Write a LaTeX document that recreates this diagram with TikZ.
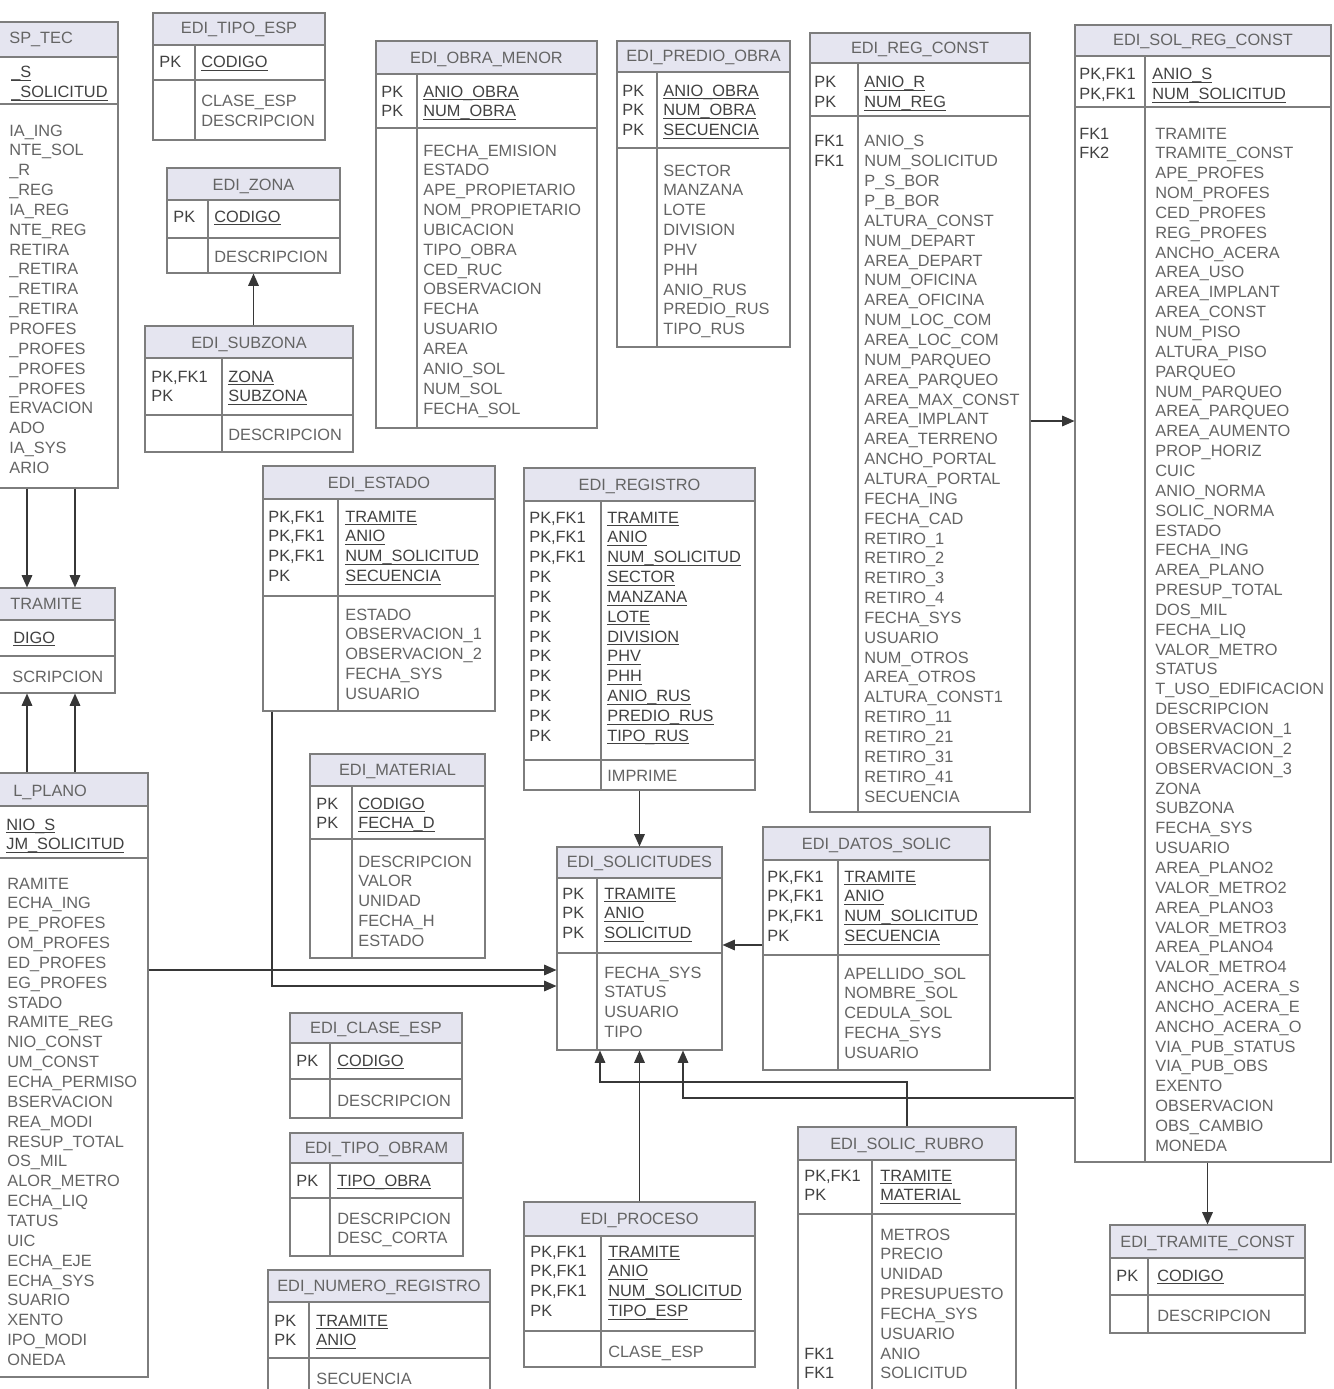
\documentclass[tikz,border=0pt]{standalone}
\usepackage{fontspec}
\setmainfont{Liberation Sans}
\usetikzlibrary{arrows.meta, fit, calc}
\definecolor{hdrfill}{RGB}{229, 229, 240}
\definecolor{linegray}{RGB}{125, 125, 125}
\definecolor{txtgray}{RGB}{100, 100, 100}
\definecolor{keygray}{RGB}{65, 65, 65}
\definecolor{arrowgray}{RGB}{55, 55, 55}

\newcommand{\erfont}{\fontsize{9.3}{11}\selectfont}
\newcommand{\rowstep}{19.85}
\newsavebox{\keybox}
\newcommand{\keyul}[1]{\sbox{\keybox}{#1}\rlap{\rule[-1.7pt]{\wd\keybox}{0.5pt}}\usebox{\keybox}}

\tikzset{
  hdr/.style={fill=hdrfill},
  tabline/.style={draw=linegray, line width=0.6pt},
  tabframe/.style={draw=linegray, line width=0.6pt, inner sep=0pt},
  tabtitle/.style={font=\erfont, text=txtgray, anchor=base, inner sep=0pt},
  pklabel/.style={font=\erfont, text=keygray, anchor=base west, inner sep=0pt},
  keyname/.style={font=\erfont, text=keygray, anchor=base west, inner sep=0pt},
  attrname/.style={font=\erfont, text=txtgray, anchor=base west, inner sep=0pt},
  fk/.style={draw=arrowgray, line width=0.8pt, -{Triangle[length=7pt,width=6pt]}}
}

% 表框: id, x1, x2, 分隔x, 顶, 表头底, 主键底, 底
\newcommand{\ertable}[8]{%
  \fill[hdr] (#2,#5) rectangle (#3,#6);
  \draw[tabline] (#2,#6) -- (#3,#6) (#2,#7) -- (#3,#7) (#4,#6) -- (#4,#8);
  \node[tabframe, fit={(#2,#5) (#3,#8)}] (#1) {};
}
% 行: 名前缀, x, 第一行y, 列表
\newcommand{\erlabels}[4]{\foreach \txt [count=\i] in {#4}
  {\node[pklabel] (#1\i) at (#2,{#3+(\i-1)*\rowstep+6}) {\txt};}}
\newcommand{\erkeys}[4]{\foreach \txt [count=\i] in {#4}
  {\node[keyname] (#1\i) at (#2,{#3+(\i-1)*\rowstep+6}) {\keyul{\txt}};}}
\newcommand{\erattrs}[4]{\foreach \txt [count=\i] in {#4}
  {\node[attrname] (#1\i) at (#2,{#3+(\i-1)*\rowstep+6}) {\txt};}}

\begin{document}
\begin{tikzpicture}[x=0.02cm, y=-0.02cm]
  \useasboundingbox[fill=white] (0,0) rectangle (1333,1389);

  % 左上: SP_TEC (被裁切)
  \ertable{insp}{-10}{118}{-30}{22}{57}{104}{488}
  \node[tabtitle, anchor=base west] (insp-t) at (9,44) {SP\_TEC};
  \erkeys{insp-k}{11}{72}{\_S, \_SOLICITUD}
  \erattrs{insp-a}{9}{130}{IA\_ING, NTE\_SOL, \_R, \_REG, IA\_REG, NTE\_REG, RETIRA,
    \_RETIRA, \_RETIRA, \_RETIRA, PROFES, \_PROFES, \_PROFES, \_PROFES, ERVACION,
    ADO, IA\_SYS, ARIO}

  % TRAMITE (被裁切)
  \ertable{tramite}{-10}{115}{-30}{588}{620}{656}{693}
  \node[tabtitle, anchor=base west] (tramite-t) at (10,609) {TRAMITE};
  \erkeys{tramite-k}{13}{637}{DIGO}
  \erattrs{tramite-a}{12}{676}{SCRIPCION}

  % L_PLANO (被裁切)
  \ertable{plano}{-10}{148}{-30}{773}{806}{858}{1377}
  \node[tabtitle, anchor=base west] (plano-t) at (13,796) {L\_PLANO};
  \erkeys{plano-k}{6}{824}{NIO\_S, JM\_SOLICITUD}
  \erattrs{plano-a}{7}{883}{RAMITE, ECHA\_ING, PE\_PROFES, OM\_PROFES, ED\_PROFES,
    EG\_PROFES, STADO, RAMITE\_REG, NIO\_CONST, UM\_CONST, ECHA\_PERMISO, BSERVACION,
    REA\_MODI, RESUP\_TOTAL, OS\_MIL, ALOR\_METRO, ECHA\_LIQ, TATUS, UIC, ECHA\_EJE,
    ECHA\_SYS, SUARIO, XENTO, IPO\_MODI, ONEDA}

  % EDI_TIPO_ESP
  \ertable{tipoesp}{153}{325}{195}{13}{45}{80}{140}
  \node[tabtitle] (tipoesp-t) at (239,34) {EDI\_TIPO\_ESP};
  \erlabels{tipoesp-l}{159}{62}{PK}
  \erkeys{tipoesp-k}{201}{62}{CODIGO}
  \erattrs{tipoesp-a}{201}{101}{CLASE\_ESP, DESCRIPCION}

  % EDI_ZONA / EDI_SUBZONA
  \ertable{zona}{167}{340}{208}{168}{200}{238}{273}
  \node[tabtitle] (zona-t) at (253.5,190) {EDI\_ZONA};
  \erlabels{zona-l}{173}{216}{PK}
  \erkeys{zona-k}{214}{216}{CODIGO}
  \erattrs{zona-a}{214}{256}{DESCRIPCION}

  \ertable{subzona}{145}{353}{222}{326}{358}{415}{452}
  \node[tabtitle] (subzona-t) at (249,348) {EDI\_SUBZONA};
  \erlabels{subzona-l}{151}{376}{{PK,FK1}, PK}
  \erkeys{subzona-k}{228}{376}{ZONA, SUBZONA}
  \erattrs{subzona-a}{228}{434}{DESCRIPCION}

  % EDI_OBRA_MENOR
  \ertable{obramenor}{376}{597}{417}{41}{74}{128}{428}
  \node[tabtitle] (obramenor-t) at (486.5,64) {EDI\_OBRA\_MENOR};
  \erlabels{obramenor-l}{381}{91}{PK, PK}
  \erkeys{obramenor-k}{423}{91}{ANIO\_OBRA, NUM\_OBRA}
  \erattrs{obramenor-a}{423}{150}{FECHA\_EMISION, ESTADO, APE\_PROPIETARIO,
    NOM\_PROPIETARIO, UBICACION, TIPO\_OBRA, CED\_RUC, OBSERVACION, FECHA, USUARIO,
    AREA, ANIO\_SOL, NUM\_SOL, FECHA\_SOL}

  % EDI_PREDIO_OBRA
  \ertable{prediobra}{617}{790}{657}{41}{72}{148}{347}
  \node[tabtitle] (prediobra-t) at (703.5,62) {EDI\_PREDIO\_OBRA};
  \erlabels{prediobra-l}{622}{90}{PK, PK, PK}
  \erkeys{prediobra-k}{663}{90}{ANIO\_OBRA, NUM\_OBRA, SECUENCIA}
  \erattrs{prediobra-a}{663}{170}{SECTOR, MANZANA, LOTE, DIVISION, PHV, PHH,
    ANIO\_RUS, PREDIO\_RUS, TIPO\_RUS}

  % EDI_REG_CONST
  \ertable{regconst}{810}{1030}{858}{33}{63}{116}{812}
  \node[tabtitle] (regconst-t) at (920,54) {EDI\_REG\_CONST};
  \erlabels{regconst-l}{814}{82}{PK, PK}
  \erkeys{regconst-k}{864}{82}{ANIO\_R, NUM\_REG}
  \erlabels{regconst-f}{814}{141}{FK1, FK1}
  \erattrs{regconst-a}{864}{141}{ANIO\_S, NUM\_SOLICITUD, P\_S\_BOR, P\_B\_BOR,
    ALTURA\_CONST, NUM\_DEPART, AREA\_DEPART, NUM\_OFICINA, AREA\_OFICINA,
    NUM\_LOC\_COM, AREA\_LOC\_COM, NUM\_PARQUEO, AREA\_PARQUEO, AREA\_MAX\_CONST,
    AREA\_IMPLANT, AREA\_TERRENO, ANCHO\_PORTAL, ALTURA\_PORTAL, FECHA\_ING,
    FECHA\_CAD, RETIRO\_1, RETIRO\_2, RETIRO\_3, RETIRO\_4, FECHA\_SYS, USUARIO,
    NUM\_OTROS, AREA\_OTROS, ALTURA\_CONST1, RETIRO\_11, RETIRO\_21, RETIRO\_31,
    RETIRO\_41, SECUENCIA}

  % EDI_SOL_REG_CONST
  \ertable{solregconst}{1075}{1331}{1145}{25}{56}{107}{1162}
  \node[tabtitle] (solregconst-t) at (1203,46) {EDI\_SOL\_REG\_CONST};
  \erlabels{solregconst-l}{1079}{74}{{PK,FK1}, {PK,FK1}}
  \erkeys{solregconst-k}{1152}{74}{ANIO\_S, NUM\_SOLICITUD}
  \erlabels{solregconst-f}{1079}{133}{FK1, FK2}
  \erattrs{solregconst-a}{1155}{133}{TRAMITE, TRAMITE\_CONST, APE\_PROFES,
    NOM\_PROFES, CED\_PROFES, REG\_PROFES, ANCHO\_ACERA, AREA\_USO, AREA\_IMPLANT,
    AREA\_CONST, NUM\_PISO, ALTURA\_PISO, PARQUEO, NUM\_PARQUEO, AREA\_PARQUEO,
    AREA\_AUMENTO, PROP\_HORIZ, CUIC, ANIO\_NORMA, SOLIC\_NORMA, ESTADO, FECHA\_ING,
    AREA\_PLANO, PRESUP\_TOTAL, DOS\_MIL, FECHA\_LIQ, VALOR\_METRO, STATUS,
    T\_USO\_EDIFICACION, DESCRIPCION, OBSERVACION\_1, OBSERVACION\_2,
    OBSERVACION\_3, ZONA, SUBZONA, FECHA\_SYS, USUARIO, AREA\_PLANO2,
    VALOR\_METRO2, AREA\_PLANO3, VALOR\_METRO3, AREA\_PLANO4, VALOR\_METRO4,
    ANCHO\_ACERA\_S, ANCHO\_ACERA\_E, ANCHO\_ACERA\_O, VIA\_PUB\_STATUS,
    VIA\_PUB\_OBS, EXENTO, OBSERVACION, OBS\_CAMBIO, MONEDA}

  % EDI_TRAMITE_CONST
  \ertable{tramiteconst}{1110}{1305}{1148}{1225}{1258}{1295}{1333}
  \node[tabtitle] (tramiteconst-t) at (1207.5,1247) {EDI\_TRAMITE\_CONST};
  \erlabels{tramiteconst-l}{1116}{1275}{PK}
  \erkeys{tramiteconst-k}{1157}{1275}{CODIGO}
  \erattrs{tramiteconst-a}{1157}{1315}{DESCRIPCION}

  % EDI_ESTADO
  \ertable{estado}{263}{495}{338}{466}{499}{596}{711}
  \node[tabtitle] (estado-t) at (379,488) {EDI\_ESTADO};
  \erlabels{estado-l}{268}{516}{{PK,FK1}, {PK,FK1}, {PK,FK1}, PK}
  \erkeys{estado-k}{345}{516}{TRAMITE, ANIO, NUM\_SOLICITUD, SECUENCIA}
  \erattrs{estado-a}{345}{614}{ESTADO, OBSERVACION\_1, OBSERVACION\_2, FECHA\_SYS, USUARIO}

  % EDI_REGISTRO
  \ertable{registro}{524}{755}{601}{468}{501}{760}{790}
  \node[tabtitle] (registro-t) at (639.5,490) {EDI\_REGISTRO};
  \erlabels{registro-l}{529}{517}{{PK,FK1}, {PK,FK1}, {PK,FK1}, PK, PK, PK, PK, PK, PK, PK, PK, PK}
  \erkeys{registro-k}{607}{517}{TRAMITE, ANIO, NUM\_SOLICITUD, SECTOR, MANZANA, LOTE,
    DIVISION, PHV, PHH, ANIO\_RUS, PREDIO\_RUS, TIPO\_RUS}
  \erattrs{registro-a}{607}{775}{IMPRIME}

  % EDI_MATERIAL
  \ertable{material}{310}{485}{352}{754}{786}{839}{958}
  \node[tabtitle] (material-t) at (397.5,775) {EDI\_MATERIAL};
  \erlabels{material-l}{316}{803}{PK, PK}
  \erkeys{material-k}{358}{803}{CODIGO, FECHA\_D}
  \erattrs{material-a}{358}{861}{DESCRIPCION, VALOR, UNIDAD, FECHA\_H, ESTADO}

  % EDI_SOLICITUDES
  \ertable{solicitudes}{557}{722}{597}{847}{878}{953}{1050}
  \node[tabtitle] (solicitudes-t) at (639.5,867) {EDI\_SOLICITUDES};
  \erlabels{solicitudes-l}{562}{893}{PK, PK, PK}
  \erkeys{solicitudes-k}{604}{893}{TRAMITE, ANIO, SOLICITUD}
  \erattrs{solicitudes-a}{604}{972}{FECHA\_SYS, STATUS, USUARIO, TIPO}

  % EDI_DATOS_SOLIC
  \ertable{datossolic}{763}{990}{838}{827}{860}{955}{1070}
  \node[tabtitle] (datossolic-t) at (876.5,849) {EDI\_DATOS\_SOLIC};
  \erlabels{datossolic-l}{767}{876}{{PK,FK1}, {PK,FK1}, {PK,FK1}, PK}
  \erkeys{datossolic-k}{844}{876}{TRAMITE, ANIO, NUM\_SOLICITUD, SECUENCIA}
  \erattrs{datossolic-a}{844}{973}{APELLIDO\_SOL, NOMBRE\_SOL, CEDULA\_SOL, FECHA\_SYS, USUARIO}

  % EDI_CLASE_ESP / EDI_TIPO_OBRAM / EDI_NUMERO_REGISTRO
  \ertable{claseesp}{290}{462}{330}{1013}{1043}{1079}{1118}
  \node[tabtitle] (claseesp-t) at (376,1033) {EDI\_CLASE\_ESP};
  \erlabels{claseesp-l}{296}{1060}{PK}
  \erkeys{claseesp-k}{337}{1060}{CODIGO}
  \erattrs{claseesp-a}{337}{1100}{DESCRIPCION}

  \ertable{tipoobram}{290}{463}{330}{1133}{1163}{1198}{1256}
  \node[tabtitle] (tipoobram-t) at (376.5,1153) {EDI\_TIPO\_OBRAM};
  \erlabels{tipoobram-l}{296}{1180}{PK}
  \erkeys{tipoobram-k}{337}{1180}{TIPO\_OBRA}
  \erattrs{tipoobram-a}{337}{1218}{DESCRIPCION, DESC\_CORTA}

  \ertable{numregistro}{268}{490}{309}{1270}{1302}{1358}{1398}
  \node[tabtitle] (numregistro-t) at (379,1291) {EDI\_NUMERO\_REGISTRO};
  \erlabels{numregistro-l}{274}{1320}{PK, PK}
  \erkeys{numregistro-k}{316}{1320}{TRAMITE, ANIO}
  \erattrs{numregistro-a}{316}{1378}{SECUENCIA}

  % EDI_PROCESO
  \ertable{proceso}{524}{755}{601}{1202}{1236}{1331}{1367}
  \node[tabtitle] (proceso-t) at (639.5,1224) {EDI\_PROCESO};
  \erlabels{proceso-l}{530}{1251}{{PK,FK1}, {PK,FK1}, {PK,FK1}, PK}
  \erkeys{proceso-k}{608}{1251}{TRAMITE, ANIO, NUM\_SOLICITUD, TIPO\_ESP}
  \erattrs{proceso-a}{608}{1351}{CLASE\_ESP}

  % EDI_SOLIC_RUBRO
  \ertable{solicrubro}{798}{1016}{872}{1127}{1160}{1214}{1398}
  \node[tabtitle] (solicrubro-t) at (907,1149) {EDI\_SOLIC\_RUBRO};
  \erlabels{solicrubro-l}{804}{1175}{{PK,FK1}, PK}
  \erkeys{solicrubro-k}{880}{1175}{TRAMITE, MATERIAL}
  \erattrs{solicrubro-a}{880}{1234}{METROS, PRECIO, UNIDAD, PRESUPUESTO, FECHA\_SYS,
    USUARIO, ANIO, SOLICITUD}
  \erlabels{solicrubro-f}{804}{1353}{FK1, FK1}

  % 关系连线
  \draw[fk] (insp.south -| 27,0) -- (tramite.north -| 27,0);
  \draw[fk] (insp.south -| 75,0) -- (tramite.north -| 75,0);
  \draw[fk] (plano.north -| 27,0) -- (tramite.south -| 27,0);
  \draw[fk] (plano.north -| 75,0) -- (tramite.south -| 75,0);
  \draw[fk] (subzona.north -| zona.south) -- (zona.south);
  \draw[fk] (regconst.east |- 0,421) -- (solregconst.west |- 0,421);
  \draw[fk] (solregconst.south -| tramiteconst.north) -- (tramiteconst.north);
  \draw[fk] (registro.south -| solicitudes.north) -- (solicitudes.north);
  \draw[fk] (plano.east |- 0,970) -- (solicitudes.west |- 0,970);
  \draw[fk] (estado.south -| 272,0) |- (solicitudes.west |- 0,986);
  \draw[fk] (datossolic.west |- 0,945) -- (solicitudes.east |- 0,945);
  \draw[fk] (proceso.north) -- (solicitudes.south);
  \draw[fk] (solicrubro.north) |- (600,1082) -- (solicitudes.south -| 600,0);
  \draw[fk] (solregconst.west |- 0,1098) -| (solicitudes.south -| 683,0);
\end{tikzpicture}
\end{document}
